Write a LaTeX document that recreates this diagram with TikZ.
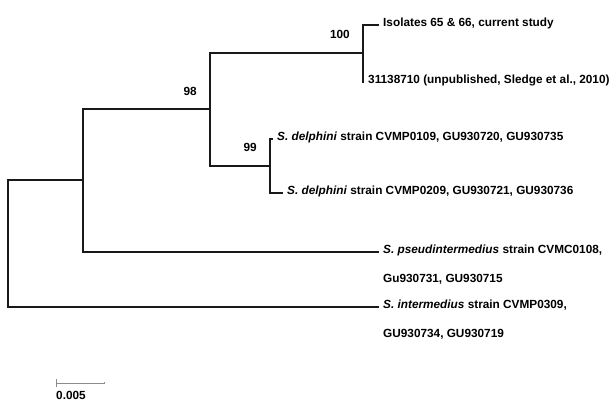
\documentclass[tikz,border=0pt]{standalone}
\usepackage{fontspec}
\setmainfont{Liberation Sans}
\usepackage{tikz}
\usetikzlibrary{arrows.meta,positioning}

\begin{document}
\begin{tikzpicture}[
    x=1pt, y=-1pt,
    branch/.style={draw=black!90, line width=1.4pt},
    taxon/.style={anchor=base west, inner sep=0pt, xshift=4.5pt, yshift=-1.5pt, font=\fontsize{11.8}{14}\selectfont\bfseries},
    boot/.style={inner sep=0pt, font=\fontsize{11.8}{14}\selectfont\bfseries},
    scalebar/.style={draw=black!45, line width=0.9pt}
]
\useasboundingbox (0,0) rectangle (611,404);

\coordinate (root) at (8,243);
\coordinate (nA) at (83,180);
\coordinate (nB) at (210,109);
\coordinate (nC) at (363,53);
\coordinate (nD) at (270,166);

\coordinate (l1) at (378.5,25);
\coordinate (l2) at (363.5,82);
\coordinate (l3) at (272.5,139);
\coordinate (l4) at (282.5,193);
\coordinate (l5) at (378.5,252);
\coordinate (l6) at (378.5,307);

\draw[branch] (root) |- (nA);
\draw[branch] (root) |- (l6);
\draw[branch] (nA) |- (nB);
\draw[branch] (nA) |- (l5);
\draw[branch] (nB) |- (nC);
\draw[branch] (nB) |- (nD);
\draw[branch] (nC) |- (l1);
\draw[branch] (nC) |- (l2);
\draw[branch] (nD) |- (l3);
\draw[branch] (nD) |- (l4);

\node[taxon] (t1) at (l1) {Isolates 65 \& 66, current study};
\node[taxon] (t2) at (l2) {31138710 (unpublished, Sledge et al., 2010)};
\node[taxon] (t3) at (l3) {\textit{S. delphini} strain CVMP0109, GU930720, GU930735};
\node[taxon] (t4) at (l4) {\textit{S. delphini} strain CVMP0209, GU930721, GU930736};
\node[taxon] (t5) at (l5) {\textit{S. pseudintermedius} strain CVMC0108,};
\node[taxon, xshift=-4.5pt, yshift=-27pt] (t5b) at (t5.base west) {Gu930731, GU930715};
\node[taxon] (t6) at (l6) {\textit{S. intermedius} strain CVMP0309,};
\node[taxon, xshift=-4.5pt, yshift=-27pt] (t6b) at (t6.base west) {GU930734, GU930719};

\node[boot, above left=14pt and 13pt of nC] (b100) {100};
\node[boot, above left=13pt and 13pt of nB] (b98) {98};
\node[boot, above left=14pt and 13pt of nD] (b99) {99};

\coordinate (sb0) at (56,383);
\coordinate (sb1) at (105,383);
\draw[scalebar, {Bar[width=8pt]}-{Bar[width=2.5pt]}] (sb0) -- (sb1);
\node[boot, below right=8pt and 0pt of sb0] (sbl) {0.005};

\end{tikzpicture}
\end{document}
